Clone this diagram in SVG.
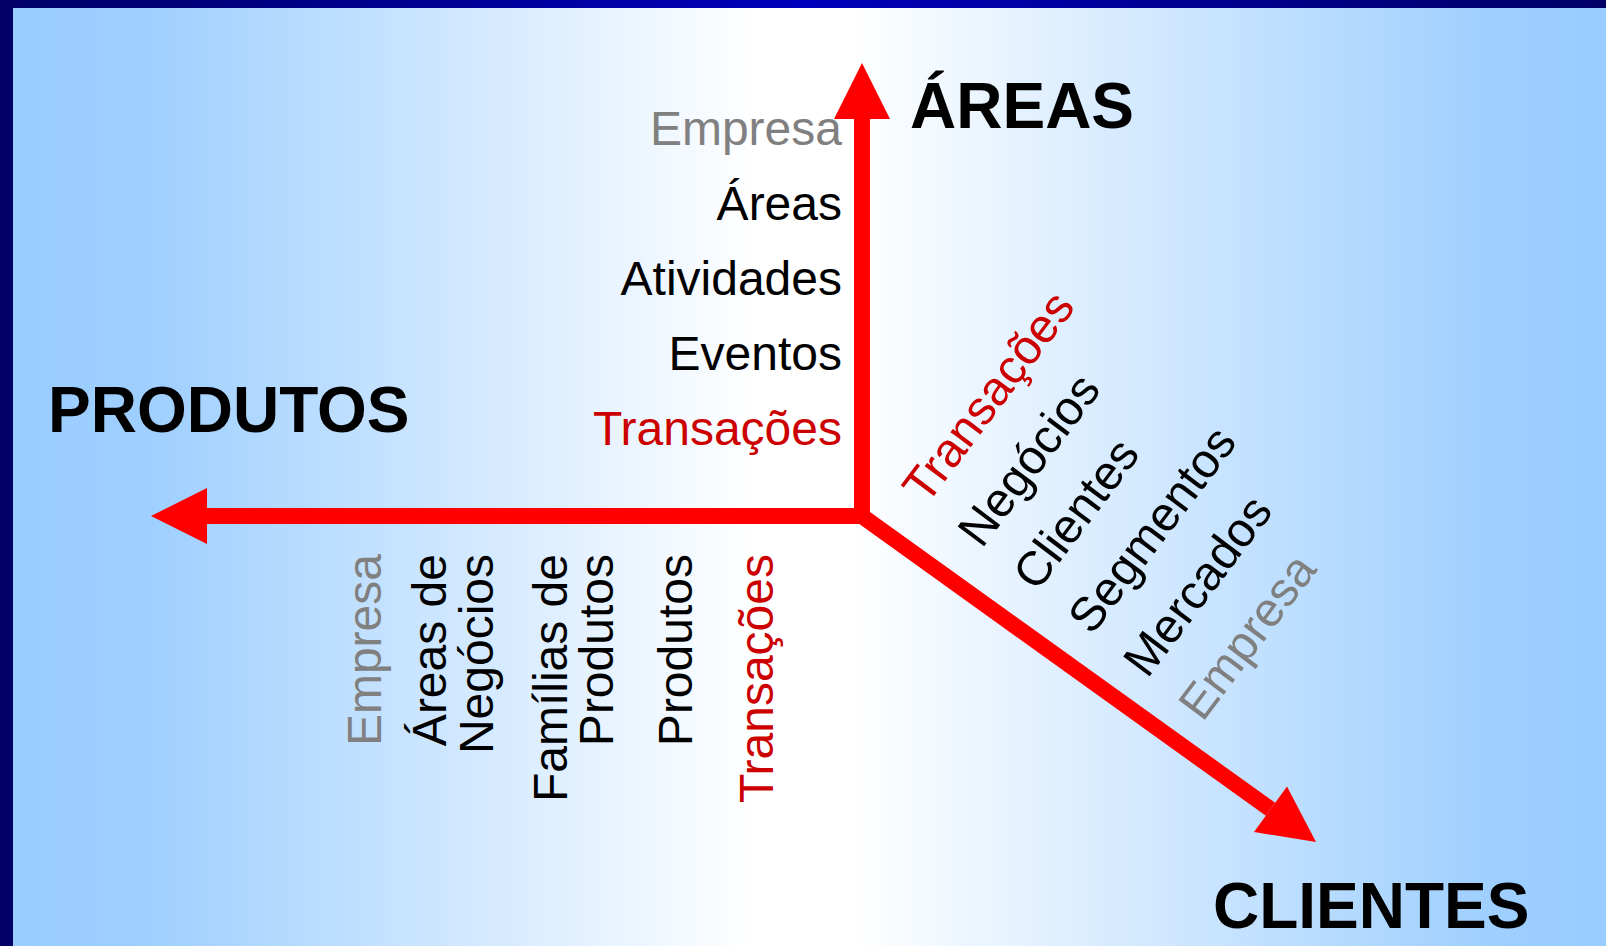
<svg xmlns="http://www.w3.org/2000/svg" width="1606" height="946" viewBox="0 0 1606 946">
  <defs>
    <linearGradient id="bg" x1="0" y1="0" x2="1606" y2="0" gradientUnits="userSpaceOnUse">
      <stop offset="0" stop-color="#99CCFF"/>
      <stop offset="0.09" stop-color="#9ECFFF"/>
      <stop offset="0.47" stop-color="#FFFFFF"/>
      <stop offset="0.53" stop-color="#FFFFFF"/>
      <stop offset="0.93" stop-color="#9ECFFF"/>
      <stop offset="1" stop-color="#99CCFF"/>
    </linearGradient>
    <linearGradient id="band" x1="0" y1="0" x2="1606" y2="0" gradientUnits="userSpaceOnUse">
      <stop offset="0" stop-color="#000066"/>
      <stop offset="0.5" stop-color="#0000BB"/>
      <stop offset="1" stop-color="#000066"/>
    </linearGradient>
    <style>
      .lbl { font-family: "Liberation Sans", Arial, sans-serif; font-size: 48px; fill: #000000; }
      .gray { fill: #808080; }
      .red { fill: #CC0000; }
      .title { font-family: "Liberation Sans", Arial, sans-serif; font-size: 64px; font-weight: bold; fill: #000000; }
      .axis { fill: #FF0000; }
      .shaft { stroke: #FF0000; stroke-width: 16; fill: none; }
    </style>
  </defs>

  <!-- background -->
  <rect x="0" y="0" width="1606" height="946" fill="#000066"/>
  <rect x="13" y="8" width="1593" height="938" fill="url(#bg)"/>
  <rect x="13" y="0" width="1593" height="8" fill="url(#band)"/>

  <!-- connectors (axes) -->
  <g id="connectors">
    <line class="shaft" x1="857" y1="512.5" x2="1270.5" y2="809.3"/>
    <polygon class="axis" points="1316,842 1287,786.6 1254,832"/>
    <rect class="axis" x="854" y="118" width="16" height="406"/>
    <polygon class="axis" points="862,63 890,119 834,119"/>
    <rect class="axis" x="206" y="508" width="664" height="16"/>
    <polygon class="axis" points="151,516 207,488 207,544"/>
  </g>

  <!-- axis titles -->
  <g id="title-areas"><text class="title" x="910" y="128">ÁREAS</text></g>
  <g id="title-produtos"><text class="title" x="48" y="432">PRODUTOS</text></g>
  <g id="title-clientes"><text class="title" x="1213" y="928">CLIENTES</text></g>

  <!-- areas axis labels -->
  <g id="labels-areas" text-anchor="end">
    <text class="lbl gray" x="842" y="145">Empresa</text>
    <text class="lbl" x="842" y="220">Áreas</text>
    <text class="lbl" x="842" y="295">Atividades</text>
    <text class="lbl" x="842" y="370">Eventos</text>
    <text class="lbl red" x="842" y="445">Transações</text>
  </g>

  <!-- produtos axis labels -->
  <g id="labels-produtos" text-anchor="end">
    <text class="lbl gray" transform="translate(381,554) rotate(-90)">Empresa</text>
    <text class="lbl" transform="translate(446,554) rotate(-90)">Áreas de</text>
    <text class="lbl" transform="translate(493,554) rotate(-90)">Negócios</text>
    <text class="lbl" transform="translate(567,554) rotate(-90)">Famílias de</text>
    <text class="lbl" transform="translate(613,554) rotate(-90)">Produtos</text>
    <text class="lbl" transform="translate(692,554) rotate(-90)">Produtos</text>
    <text class="lbl red" transform="translate(773,554) rotate(-90)">Transações</text>
  </g>

  <!-- clientes axis labels -->
  <g id="labels-clientes">
    <text class="lbl red" transform="translate(926.5,506) rotate(-53)">Transações</text>
    <text class="lbl" transform="translate(981.7,549.4) rotate(-53)">Negócios</text>
    <text class="lbl" transform="translate(1036.9,592.8) rotate(-53)">Clientes</text>
    <text class="lbl" transform="translate(1092.1,636.2) rotate(-53)">Segmentos</text>
    <text class="lbl" transform="translate(1147.3,679.6) rotate(-53)">Mercados</text>
    <text class="lbl gray" transform="translate(1202.5,723) rotate(-53)">Empresa</text>
  </g>
</svg>
